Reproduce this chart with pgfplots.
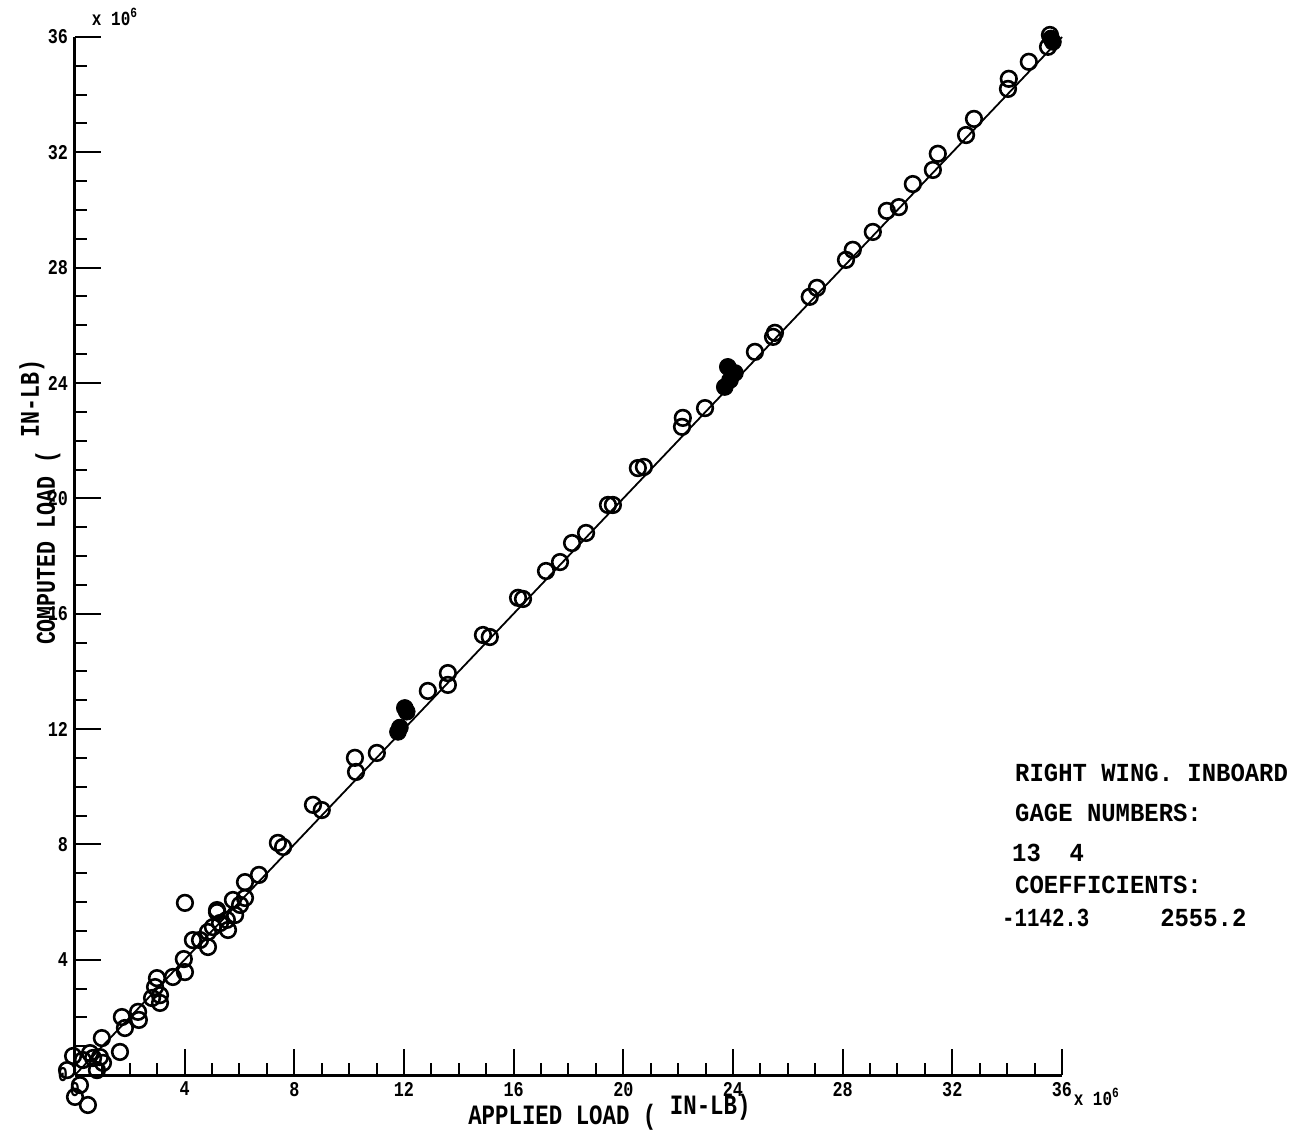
\documentclass[border=0pt]{standalone}
\usepackage{fontspec}
\setmainfont{Liberation Mono}
\newfontfamily\plotfont{Liberation Mono}[FakeStretch=0.8]
\newfontfamily\annfont{Liberation Mono}[FakeStretch=0.92]
\usepackage{pgfplots}
\pgfplotsset{compat=1.18}
\begin{document}
\begin{tikzpicture}
\useasboundingbox (-37.5pt,-28.5pt) rectangle (608pt,537.5pt);
\begin{axis}[
  at={(0pt,0pt)}, anchor=south west,
  scale only axis, width=493.5pt, height=519pt,
  xmin=0, xmax=36, ymin=0, ymax=36,
  axis lines*=left,
  axis line style={line width=1.5pt, black},
  xtick={0,4,...,36}, ytick={0,4,...,36},
  minor tick num=3,
  tick align=inside,
  major tick length=13pt, minor tick length=6pt,
  tick style={line width=1pt, black},
  tick label style={font=\plotfont\bfseries\fontsize{10.5pt}{12pt}\selectfont},
  /pgf/number format/assume math mode=true,
  clip=false,
  scaled ticks=false,
]
\addplot[black, line width=0.9pt, no marks] coordinates {(0,0) (36,36)};
\addplot[only marks, mark=o, mark size=3.9pt, mark options={line width=1.3pt, black}] coordinates {
(35.56,36.07) (35.49,35.66) (34.79,35.14) (34.06,34.55) (34.03,34.2)
(32.79,33.16) (32.5,32.6) (31.47,31.95) (31.29,31.39) (30.56,30.9)
(30.05,30.1) (29.61,29.97) (29.1,29.24) (28.37,28.62) (28.12,28.27)
(27.06,27.3) (26.8,26.99) (25.53,25.74) (25.46,25.6) (24.8,25.08)
(22.98,23.13) (22.17,22.79) (22.14,22.48)
(20.75,21.09) (20.53,21.05) (19.44,19.77) (19.62,19.77) (18.64,18.8)
(18.13,18.45) (17.69,17.79) (17.18,17.48) (16.34,16.51) (16.16,16.55)
(15.13,15.19) (14.88,15.26) (13.6,13.94) (13.6,13.53) (12.87,13.32)
(11.01,11.17) (10.21,11.0) (10.25,10.51) (9.0,9.19) (8.68,9.37)
(7.59,7.91) (7.4,8.05) (6.71,6.94) (6.2,6.69) (5.76,6.07) (5.18,5.72)
(4.01,5.97)
(5.18,5.65) (5.54,5.38) (5.03,5.13) (4.85,4.96) (5.84,5.55) (6.02,5.9)
(6.2,6.14) (5.58,5.03) (5.29,5.27)
(4.3,4.68) (4.85,4.44) (4.56,4.68) (3.97,4.02) (4.01,3.57)
(3.57,3.4) (2.99,3.36) (2.92,3.05) (3.1,2.77) (2.81,2.67) (3.1,2.5)
(2.3,2.19) (2.33,1.91) (1.71,2.01) (1.82,1.63) (1.64,0.8) (0.98,1.28)
(-0.07,0.66) (0.29,0.52) (0.66,0.59) (0.91,0.62) (1.02,0.42) (-0.29,0.17)
(0.8,0.17) (0.18,-0.35) (0.0,-0.76) (0.47,-1.04) (0.55,0.76)
};
\addplot[only marks, mark=*, mark size=4.2pt, black] coordinates {
(35.67,35.83) (35.6,35.95)
(23.81,24.56) (24.07,24.35) (23.7,23.86) (23.89,24.1)
(12.03,12.73) (12.1,12.6) (11.78,11.9) (11.85,12.05)
};
\node[anchor=center, inner sep=0, font=\plotfont\bfseries\fontsize{10pt}{12pt}\selectfont] at (axis cs:1.46,36.7) {x 10\textsuperscript{6}};
\node[anchor=center, inner sep=0, font=\plotfont\bfseries\fontsize{10pt}{12pt}\selectfont] at (axis cs:37.27,-0.76) {x 10\textsuperscript{6}};
\node[rotate=90, anchor=base west, inner sep=0, font=\plotfont\bfseries\fontsize{13.5pt}{14pt}\selectfont] at (axis cs:-0.73,14.9) {COMPUTED LOAD ( \raisebox{8pt}{IN-LB)}};
\node[anchor=base west, inner sep=0, font=\plotfont\bfseries\fontsize{14pt}{14pt}\selectfont] at (axis cs:14.33,-1.73) {APPLIED LOAD ( \raisebox{5pt}{IN-LB)}};
\begin{scope}[every node/.style={anchor=west, inner sep=0, font=\annfont\bfseries\fontsize{13pt}{13pt}\selectfont}]
\node at (axis cs:34.28,10.47) {RIGHT WING. INBOARD};
\node at (axis cs:34.28,9.09) {GAGE NUMBERS:};
\node at (axis cs:34.17,7.70) {13\ \ 4};
\node at (axis cs:34.28,6.59) {COEFFICIENTS:};
\node[font=\plotfont\bfseries\fontsize{13pt}{13pt}\selectfont] at (axis cs:33.80,5.45) {-1142.3};
\node at (axis cs:39.57,5.45) {2555.2};
\end{scope}
\end{axis}
\end{tikzpicture}
\end{document}
